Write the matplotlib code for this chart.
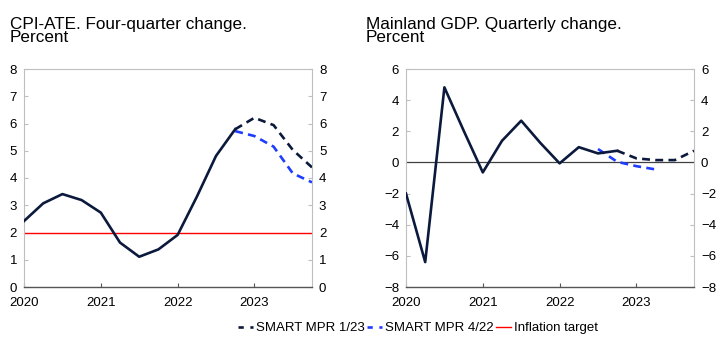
import matplotlib
matplotlib.use("Agg")
import matplotlib.pyplot as plt
import numpy as np
from matplotlib.lines import Line2D

plt.rcParams['font.family'] = ['Liberation Sans', 'DejaVu Sans']

# ---- data ----
years = [2020, 2021, 2022, 2023]
cpi_hist_x = [2020.0, 2020.25, 2020.5, 2020.75, 2021.0, 2021.25, 2021.5, 2021.75,
              2022.0, 2022.25, 2022.5, 2022.75]
cpi_hist = [2.42, 3.07, 3.41, 3.19, 2.73, 1.63, 1.11, 1.38, 1.91, 3.31, 4.81, 5.79]
cpi_123_x = [2022.75, 2023.0, 2023.25, 2023.5, 2023.75]
cpi_123 = [5.79, 6.21, 5.94, 5.03, 4.39]
cpi_422_x = [2022.75, 2023.0, 2023.25, 2023.5, 2023.75]
cpi_422 = [5.72, 5.54, 5.15, 4.17, 3.84]
inflation_target = 2.0

gdp_hist_x = [2020.0, 2020.25, 2020.5, 2020.75, 2021.0, 2021.25, 2021.5, 2021.75,
              2022.0, 2022.25, 2022.5, 2022.75]
gdp_hist = [-2.0, -6.4, 4.82, 2.05, -0.64, 1.39, 2.68, 1.25, -0.06, 0.98, 0.58, 0.75]
gdp_123_x = [2022.75, 2023.0, 2023.25, 2023.5, 2023.75]
gdp_123 = [0.75, 0.26, 0.15, 0.15, 0.75]
gdp_422_x = [2022.5, 2022.75, 2023.0, 2023.25]
gdp_422 = [0.86, 0.04, -0.24, -0.45]

titles = ["CPI-ATE. Four-quarter change.\nPercent",
          "Mainland GDP. Quarterly change.\nPercent"]
legend_labels = ["SMART MPR 1/23", "SMART MPR 4/22", "Inflation target"]

# ---- styles ----
NAVY = '#0b1a3c'
BLUE = '#1f3dff'
RED = '#ff0000'
GRID_GRAY = '#bfbfbf'

W, H = 722, 346
fig = plt.figure(figsize=(W / 100, H / 100), dpi=100)

def axes_px(l, r, t, b):
    return fig.add_axes([l / W, 1 - b / H, (r - l) / W, (b - t) / H])

ax1 = axes_px(24, 312, 69, 287)
ax2 = axes_px(406, 694, 69, 287)

def style(ax, ylim, yticks):
    ax.set_xlim(2020, 2023.75)
    ax.set_ylim(*ylim)
    ax.set_yticks(yticks)
    ax.set_xticks(years)
    ax.set_xticklabels([str(y) for y in years])
    for s in ['left', 'right', 'top']:
        ax.spines[s].set_color(GRID_GRAY)
        ax.spines[s].set_linewidth(0.8)
    ax.spines['bottom'].set_color('#555555')
    ax.spines['bottom'].set_linewidth(1.0)
    ax.tick_params(axis='y', direction='in', length=3, color=GRID_GRAY,
                   left=True, right=True, labelleft=True, labelright=True,
                   labelsize=9.5, pad=5)
    ax.tick_params(axis='x', direction='in', length=3, color='#555555',
                   labelsize=9.5, pad=7)
    ax.set_facecolor('white')

style(ax1, (0, 8), range(0, 9))
style(ax2, (-8, 6), range(-8, 7, 2))
ax2.set_yticklabels([str(v).replace('-', '\u2212') for v in range(-8, 7, 2)])

dash = (3, 2)
# Left panel
ax1.axhline(inflation_target, color=RED, lw=1.0, zorder=2)
ax1.plot(cpi_hist_x, cpi_hist, color=NAVY, lw=1.9, zorder=4)
ax1.plot(cpi_123_x, cpi_123, color=NAVY, lw=1.9, dashes=dash, zorder=4)
ax1.plot(cpi_422_x, cpi_422, color=BLUE, lw=1.9, dashes=dash, zorder=3)

# Right panel
ax2.axhline(0, color='#404040', lw=0.9, zorder=2)
ax2.plot(gdp_hist_x, gdp_hist, color=NAVY, lw=1.9, zorder=4)
ax2.plot(gdp_123_x, gdp_123, color=NAVY, lw=1.9, dashes=dash, zorder=4)
ax2.plot(gdp_422_x, gdp_422, color=BLUE, lw=1.9, dashes=dash, zorder=3)

fig.text(10 / W, 1 - 17 / H, titles[0], fontsize=12.3, va='top', ha='left',
         linespacing=0.8)
fig.text(366 / W, 1 - 17 / H, titles[1], fontsize=12.3, va='top', ha='left',
         linespacing=0.8)

handles = [Line2D([], [], color=NAVY, lw=1.9, dashes=(2, 2.5)),
           Line2D([], [], color=BLUE, lw=1.9, dashes=(2, 2.5)),
           Line2D([], [], color=RED, lw=1.0)]
fig.legend(handles, legend_labels, loc='center', ncol=3,
           bbox_to_anchor=(418 / W, 1 - 328 / H), frameon=False,
           fontsize=9.5, handlelength=1.15, handletextpad=0.2,
           columnspacing=0.2, borderpad=0)

fig.savefig('out.png', dpi=100, facecolor='white')
